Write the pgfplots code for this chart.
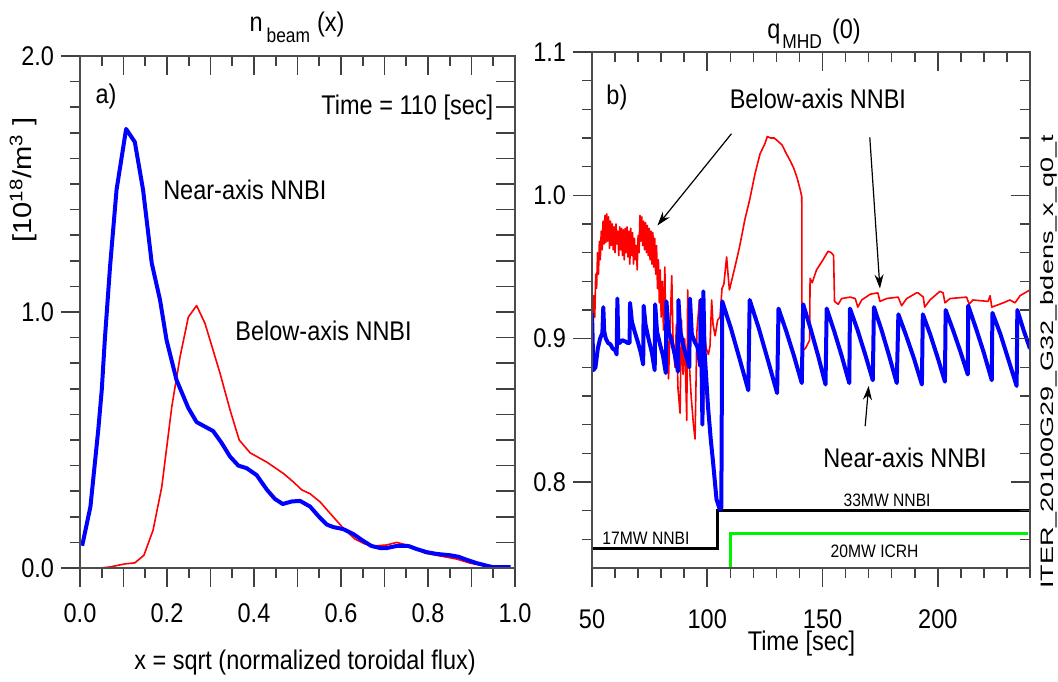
\documentclass[border=0pt]{standalone}
\usepackage{fontspec}
\setmainfont{Liberation Sans}[FakeStretch=0.87]
\newfontfamily\iterfont{Liberation Sans}[FakeStretch=1.5]
\newfontfamily\ylfont{Liberation Sans}[FakeStretch=1.12]
\usepackage{pgfplots}
\pgfplotsset{compat=1.18}
\usetikzlibrary{arrows.meta}

\pgfplotsset{
  base/.style={scale only axis,
    axis line style={black!70, line width=0.8pt},
    every tick/.style={black!75, line width=0.8pt},
    major tick length=9.5pt, minor tick length=5pt,
    tick label style={font=\fontsize{13.5}{16}\selectfont},
    extra tick style={grid=none}},
  leftpanel/.style={base, at={(40pt,56.5pt)}, anchor=south west,
    width=217.5pt, height=256pt, xmin=0, xmax=1, ymin=0, ymax=2},
  rightpanel/.style={base, at={(296pt,56.5pt)}, anchor=south west,
    width=219pt, height=258pt, xmin=50, xmax=240, ymin=0.74, ymax=1.1},
}
\newcommand{\bigf}{\fontsize{13.5}{16}\selectfont}
\newcommand{\smallf}{\fontsize{9}{11}\selectfont}

\begin{document}
\begin{tikzpicture}
\path[use as bounding box] (0,0) rectangle (529pt,340.5pt);

% ---------------- left panel ----------------
\begin{axis}[leftpanel, tick pos=left, tick align=outside,
  xtick={0,0.2,0.4,0.6,0.8,1.0}, xticklabels={0.0,0.2,0.4,0.6,0.8,1.0},
  minor x tick num=3, extra x ticks={0.1,0.3,0.5,0.7,0.9}, extra x tick labels={},
  ytick={0,1,2}, yticklabels={0.0,1.0,2.0}, minor y tick num=9,
  xticklabel style={yshift=-5pt}]
\addplot[red, line width=0.8pt, line join=round] coordinates {
(0.005,0) (0.046,0) (0.069,0.004) (0.103,0.016) (0.126,0.02) (0.147,0.05) (0.168,0.148) (0.188,0.317) (0.211,0.63) (0.23,0.825) (0.249,0.98) (0.268,1.025) (0.287,0.957) (0.299,0.89) (0.322,0.76) (0.345,0.617) (0.366,0.50) (0.391,0.45) (0.43,0.413) (0.467,0.37) (0.49,0.337) (0.51,0.305) (0.529,0.29) (0.552,0.258) (0.582,0.2) (0.605,0.156) (0.632,0.113) (0.655,0.094) (0.674,0.086) (0.705,0.09) (0.728,0.10) (0.751,0.09) (0.774,0.074) (0.793,0.058) (0.828,0.047) (0.866,0.035) (0.897,0.019) (0.927,0.009) (0.95,0) (0.99,0)
};
\addplot[blue, line width=2pt, line join=round] coordinates {
(0.005,0.087) (0.024,0.24) (0.042,0.54) (0.05,0.695) (0.057,0.89) (0.069,1.176) (0.084,1.477) (0.106,1.715) (0.126,1.664) (0.145,1.477) (0.165,1.19) (0.184,1.047) (0.199,0.89) (0.222,0.734) (0.249,0.625) (0.268,0.57) (0.306,0.535) (0.325,0.49) (0.345,0.435) (0.364,0.40) (0.383,0.39) (0.406,0.363) (0.43,0.305) (0.448,0.27) (0.466,0.25) (0.487,0.26) (0.506,0.262) (0.529,0.24) (0.548,0.203) (0.567,0.17) (0.582,0.16) (0.605,0.152) (0.628,0.133) (0.651,0.106) (0.67,0.086) (0.69,0.078) (0.705,0.078) (0.728,0.086) (0.755,0.086) (0.774,0.074) (0.797,0.062) (0.82,0.055) (0.85,0.05) (0.87,0.044) (0.889,0.032) (0.912,0.019) (0.935,0.009) (0.95,0.003) (0.99,0.003)
};
\node[font=\bigf] at (axis cs:0.06,1.84) {a)};
\node[font=\bigf, anchor=east] at (axis cs:0.966,1.797) {Time = 110 [sec]};
\node[font=\bigf] at (axis cs:0.379,1.477) {Near-axis NNBI};
\node[font=\bigf] at (axis cs:0.56,0.926) {Below-axis NNBI};
\end{axis}
\begin{axis}[leftpanel, tick pos=right, tick align=inside,
  xtick={0,0.1,0.2,0.3,0.4,0.5,0.6,0.7,0.8,0.9,1.0}, minor x tick num=1,
  ytick={0,0.1,0.2,0.3,0.4,0.5,0.6,0.7,0.8,0.9,1.0,1.1,1.2,1.3,1.4,1.5,1.6,1.7,1.8,1.9,2.0},
  xticklabels={}, yticklabels={}]
\end{axis}

% ---------------- right panel ----------------
\begin{axis}[rightpanel, tick pos=left, tick align=outside,
  xtick={50,100,150,200}, xticklabels={50,100,\raisebox{2pt}{150},\raisebox{-2pt}{200}},
  minor xtick={60,70,80,90,110,120,130,140,160,170,180,190,210,220,230,240},
  ytick={0.8,0.9,1.0,1.1}, yticklabels={0.8,0.9,1.0,1.1},
  minor ytick={0.76,0.78,0.82,0.84,0.86,0.88,0.92,0.94,0.96,0.98,1.02,1.04,1.06,1.08},
  xticklabel style={yshift=-8pt}]
\addplot[black, line width=1.6pt] coordinates {(50,0.7535) (104.4,0.7535) (104.4,0.780) (240,0.780)};
\addplot[green!95!black, line width=1.6pt] coordinates {(110.2,0.74) (110.2,0.764) (239.2,0.764)};
\addplot[red, line width=0.8pt, line join=round] coordinates {
(50,0.888) (50.4,0.905) (50.8,0.93) (51.2,0.915) (51.6,0.945) (52,0.935) (52.4,0.96) (52.8,0.945) (53.2,0.968) (53.6,0.955) (54,0.975) (54.4,0.962) (54.8,0.982) (55.2,0.966) (55.6,0.986) (56,0.967) (56.4,0.987) (56.8,0.968) (57.2,0.985) (57.6,0.963) (58,0.982) (58.4,0.965) (58.8,0.980) (59.2,0.962) (59.6,0.978) (60,0.960) (60.4,0.980) (60.8,0.966) (61.2,0.975) (61.6,0.958) (62,0.978) (62.4,0.962) (62.8,0.977) (63.2,0.958) (63.6,0.976) (64,0.955) (64.4,0.977) (64.8,0.960) (65.2,0.978) (65.6,0.957) (66,0.975) (66.4,0.952) (66.8,0.977) (67.2,0.958) (67.6,0.974) (68,0.952) (68.4,0.970) (68.8,0.955) (69.2,0.965) (69.6,0.948) (70,0.972) (70.4,0.960) (70.8,0.986) (71.2,0.968) (71.6,0.985) (72,0.965) (72.4,0.982) (72.8,0.962) (73.2,0.981) (73.6,0.960) (74,0.979) (74.4,0.958) (74.8,0.977) (75.2,0.955) (75.6,0.975) (76,0.952) (76.4,0.974) (76.8,0.950) (77.2,0.970) (77.6,0.945) (78,0.965) (78.4,0.935) (78.8,0.955) (79.2,0.925) (79.6,0.948) (80,0.915) (80.5,0.940) (81,0.906) (81.6,0.950) (82.1,0.890) (82.6,0.915) (83.2,0.872) (83.8,0.905) (84.6,0.944) (85.2,0.895) (86,0.880) (86.6,0.910) (87.3,0.865) (88.2,0.848) (88.8,0.913) (89.5,0.875) (90.2,0.900) (91.1,0.843) (91.5,0.934) (92.3,0.880) (93.0,0.860) (94.0,0.840) (94.7,0.830) (95.5,0.905) (96.6,0.927) (97.6,0.853) (98.3,0.845) (99,0.900) (99.6,0.893) (100.5,0.889) (101.2,0.895) (101.9,0.927) (102.5,0.910) (103.4,0.902) (104.5,0.913) (105.5,0.915) (106.4,0.935) (107.2,0.938) (107.7,0.946) (108.4,0.957) (109.0,0.945) (109.6,0.934) (110.5,0.940) (112,0.950) (114,0.964) (116.3,0.983) (118.4,0.997) (120.7,1.015) (122.9,1.029) (125,1.036) (126,1.041) (127.5,1.040) (129,1.040) (130.5,1.038) (132.5,1.035) (134,1.030) (136,1.024) (137.5,1.019) (139,1.012) (140.3,1.004) (141.0,0.999) (141.1,0.892) (142.5,0.893) (143.8,0.897) (144.4,0.899) (144.6,0.942) (145.5,0.939) (147.4,0.948) (150.2,0.955) (152.4,0.961) (153.8,0.960) (154.8,0.958) (155.2,0.926) (156.8,0.924) (158.3,0.928) (162,0.929) (164.2,0.928) (165.3,0.922) (167,0.927) (170.7,0.931) (174,0.932) (174.9,0.926) (177.8,0.928) (182.8,0.929) (184.3,0.923) (186.5,0.928) (190.8,0.932) (191.4,0.932) (193.7,0.929) (194.3,0.922) (196.6,0.927) (200.9,0.933) (202.3,0.932) (203.1,0.925) (205.3,0.928) (212.5,0.929) (213.6,0.924) (215.2,0.927) (221.8,0.926) (222.7,0.930) (223.4,0.922) (228.4,0.925) (231.3,0.927) (233.5,0.925) (235.7,0.930) (240,0.934)
};
\addplot[blue, line width=2pt, line join=round] coordinates {
(50,0.918) (50.6,0.878) (51.5,0.880) (52.5,0.893) (53.5,0.900) (54.5,0.904) (54.9,0.922) (55.3,0.905) (56,0.900) (57,0.897) (58,0.896) (59,0.893) (60,0.892) (60.7,0.889) (61,0.928) (61.4,0.898) (62,0.897) (63,0.899) (64.5,0.898) (65.5,0.897) (66.3,0.897) (66.5,0.925) (67.3,0.912) (68.5,0.905) (70,0.897) (71.2,0.890) (72.2,0.882) (72.4,0.923) (73.2,0.910) (74.5,0.900) (76,0.890) (77.2,0.878) (77.4,0.924) (78.2,0.905) (79.5,0.896) (80.8,0.888) (82,0.876) (82.3,0.926) (83.2,0.905) (84.5,0.899) (86,0.888) (87.3,0.877) (87.5,0.927) (88.3,0.905) (89.8,0.894) (91,0.887) (92.2,0.880) (92.5,0.928) (93.3,0.903) (94.5,0.898) (95.8,0.894) (96.9,0.881) (97.1,0.927) (97.5,0.885) (97.9,0.840) (98.3,0.933) (98.8,0.892) (100.3,0.853) (101.5,0.830) (102.5,0.814) (104,0.788) (105.4,0.781) (106.1,0.782)
(106.5,0.926) (110.3,0.907) (114.0,0.886) (117.8,0.864)
(118.4,0.927) (122.4,0.907) (126.3,0.885) (130.3,0.862)
(130.9,0.921) (134.3,0.905) (137.6,0.888) (141.0,0.869)
(141.6,0.924) (144.8,0.907) (148.1,0.888) (151.3,0.868)
(151.8,0.921) (155.1,0.905) (158.3,0.888) (161.6,0.869)
(161.9,0.921) (165.2,0.906) (168.5,0.889) (171.8,0.871)
(172.3,0.922) (175.6,0.906) (178.9,0.888) (182.2,0.869)
(182.9,0.917) (186.3,0.902) (189.7,0.886) (193.1,0.868)
(193.5,0.917) (196.7,0.903) (199.9,0.887) (203.1,0.870)
(203.4,0.920) (206.6,0.906) (209.8,0.891) (213.0,0.875)
(213.2,0.923) (216.6,0.907) (220.0,0.890) (223.4,0.871)
(223.7,0.918) (227.2,0.903) (230.7,0.885) (234.2,0.867)
(234.5,0.920) (237.2,0.906) (240,0.893)
};
\draw[-{Stealth[length=7pt,width=4.5pt]}, line width=0.6pt] (axis cs:110.5,1.043) -- (axis cs:78.4,0.979);
\draw[-{Stealth[length=7pt,width=4.5pt]}, line width=0.6pt] (axis cs:170.5,1.0405) -- (axis cs:174.9,0.935);
\draw[-{Stealth[length=7pt,width=4.5pt]}, line width=0.6pt] (axis cs:168.5,0.839) -- (axis cs:170,0.867);
\node[font=\bigf] at (axis cs:60.8,1.068) {b)};
\node[font=\bigf] at (axis cs:148,1.067) {Below-axis NNBI};
\node[font=\bigf] at (axis cs:185.8,0.817) {Near-axis NNBI};
\node[font=\smallf] at (axis cs:178,0.7875) {33MW NNBI};
\node[font=\smallf] at (axis cs:73.4,0.761) {17MW NNBI};
\node[font=\smallf] at (axis cs:172.6,0.7515) {20MW ICRH};
\end{axis}
\begin{axis}[rightpanel, tick pos=right, tick align=inside,
  xtick={50,100,150,200},
  minor xtick={60,70,80,90,110,120,130,140,160,170,180,190,210,220,230,240},
  ytick={0.8,0.9,1.0,1.1},
  minor ytick={0.76,0.78,0.82,0.84,0.86,0.88,0.92,0.94,0.96,0.98,1.02,1.04,1.06,1.08},
  xticklabels={}, yticklabels={}]
\end{axis}

% ---------------- outer labels ----------------
\node[anchor=base, font=\bigf, inner sep=0pt] at (148.5pt,324.5pt) {n\hspace{2pt}\raisebox{-5.3pt}{\fontsize{10}{12}\selectfont beam}\hspace{3.5pt}(x)};
\node[anchor=base, font=\bigf, inner sep=0pt] at (407pt,321pt) {q\hspace{1pt}\raisebox{-5pt}{\fontsize{10}{12}\selectfont MHD}\hspace{5pt}(0)};
\node[rotate=90, font=\ylfont\fontsize{13}{15}\selectfont] at (11.5pt,250.5pt) {[10\textsuperscript{18}/m\textsuperscript{3} ]};
\node[font=\bigf] at (152.5pt,9pt) {x = sqrt (normalized toroidal flux)};
\node[font=\bigf] at (400.75pt,18.5pt) {Time [sec]};
\node[rotate=90, font=\iterfont\fontsize{9}{11}\selectfont, inner sep=0pt] at (524.5pt,159.5pt) {ITER\_20100G29\_G32\_bdens\_x\_q0\_t};
\end{tikzpicture}
\end{document}
